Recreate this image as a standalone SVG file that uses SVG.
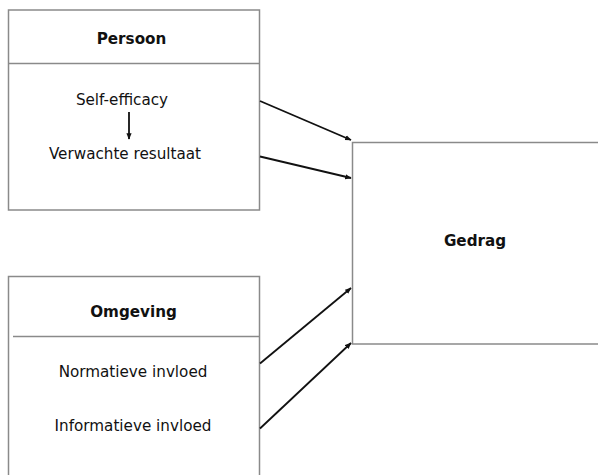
<svg xmlns="http://www.w3.org/2000/svg" width="598" height="475" viewBox="0 0 598 475">
<style>
.box{fill:#fff;stroke:#8a8a8a;stroke-width:1.5}
.div{stroke:#8a8a8a;stroke-width:1.5}
.t{font-family:"DejaVu Sans",Verdana,sans-serif;font-size:15.2px;fill:#111;text-anchor:middle}
.b{font-weight:bold}
.c{stroke:#111;stroke-width:1.8;fill:none;marker-end:url(#ah)}
</style>
<defs>
<marker id="ah" viewBox="0 0 10 10" refX="9" refY="5" markerWidth="3.6" markerHeight="3.6" orient="auto" markerUnits="strokeWidth">
<path d="M0,1 L10,5 L0,9 z" fill="#111"/>
</marker>
</defs>
<g id="persoon">
<rect class="box" x="8.5" y="10" width="251" height="200"/>
<line class="div" x1="8.5" y1="63.5" x2="259.5" y2="63.5"/>
<text class="t b" x="131.5" y="44">Persoon</text>
<text class="t" x="122" y="104.5">Self-efficacy</text>
<text class="t" x="125" y="159">Verwachte resultaat</text>
<line class="c" x1="129" y1="112" x2="129" y2="139"/>
</g>
<g id="omgeving">
<rect class="box" x="8.5" y="276.5" width="251" height="220"/>
<line class="div" x1="13" y1="336.5" x2="259.5" y2="336.5"/>
<text class="t b" x="133.5" y="317">Omgeving</text>
<text class="t" x="133" y="376.5">Normatieve invloed</text>
<text class="t" x="133" y="431">Informatieve invloed</text>
</g>
<g id="gedrag">
<rect class="box" x="352.5" y="142.5" width="260" height="201.5"/>
<text class="t b" x="475" y="246">Gedrag</text>
</g>
<g id="connectors">
<line class="c" x1="260" y1="101" x2="351" y2="140"/>
<line class="c" x1="260" y1="156.5" x2="351" y2="178"/>
<line class="c" x1="260" y1="363.5" x2="351" y2="288"/>
<line class="c" x1="260" y1="428.5" x2="351" y2="343"/>
</g>
</svg>
